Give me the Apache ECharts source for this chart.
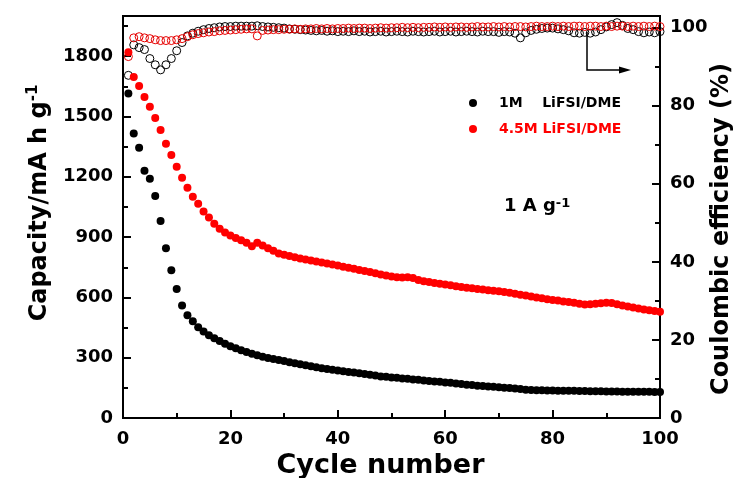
<!DOCTYPE html>
<html>
<head>
<meta charset="utf-8">
<script src="https://cdn.jsdelivr.net/npm/echarts@6/dist/echarts.min.js"></script>
<style>
  html, body { margin: 0; padding: 0; background: #fff; }
  #chart { width: 742px; height: 478px; }
</style>
</head>
<body>
<div id="chart"></div>
<script>
// cycle numbers
const cycles = [1,2,3,4,5,6,7,8,9,10,11,12,13,14,15,16,17,18,19,20,
  21,22,23,24,25,26,27,28,29,30,31,32,33,34,35,36,37,38,39,40,
  41,42,43,44,45,46,47,48,49,50,51,52,53,54,55,56,57,58,59,60,
  61,62,63,64,65,66,67,68,69,70,71,72,73,74,75,76,77,78,79,80,
  81,82,83,84,85,86,87,88,89,90,91,92,93,94,95,96,97,98,99,100];

// capacity, mA h g-1
const cap1M = [1615,1415,1345,1230,1190,1105,980,845,735,642,560,511,481,451,430,412,397,383,370,357,
  347,337,328,320,312,305,299,293,288,283,277,272,267,262,257,253,248,244,240,236,
  233,229,226,223,219,215,211,207,205,202,200,197,195,192,190,187,184,182,180,177,
  175,172,169,166,164,161,159,157,155,153,151,149,147,144,140,139,138,138,137,137,
  136,136,135,135,134,134,133,133,133,132,132,132,131,131,131,130,130,130,129,129];

const cap45M = [1820,1696,1652,1597,1548,1493,1433,1364,1309,1250,1195,1146,1101,1066,1027,997,967,942,923,908,
  896,884,872,855,872,858,845,832,818,812,806,800,794,789,784,779,774,769,764,759,
  753,748,742,736,731,726,720,714,709,704,700,699,700,696,686,680,676,672,668,664,
  660,656,652,648,645,642,639,636,633,630,627,623,618,613,609,604,600,596,591,587,
  584,580,577,573,569,565,566,569,571,573,572,566,560,555,550,545,540,536,532,529];

// coulombic efficiency, %
const ce1M = [87.8,95.6,94.9,94.4,92.1,90.5,89.2,90.5,92.1,94.1,96.2,97.9,98.6,99.1,99.5,99.8,100.0,100.2,100.3,100.3,
  100.4,100.4,100.4,100.4,100.5,100.3,100.2,100.1,100.0,99.9,99.7,99.6,99.5,99.4,99.3,99.2,99.3,99.1,99.2,99.0,
  99.1,99.0,99.2,99.0,99.1,98.9,99.0,99.1,98.9,99.0,99.1,99.0,98.9,99.1,99.0,98.9,99.0,99.1,98.9,99.0,
  99.1,98.9,99.0,99.1,99.0,98.9,99.1,99.0,99.0,98.8,99.0,98.9,98.6,97.4,98.7,99.3,99.6,99.8,99.9,99.9,
  99.7,99.5,99.2,98.7,98.6,98.8,98.6,98.9,99.5,100.2,100.8,101.3,100.6,99.8,99.5,99.0,98.7,98.9,98.7,99.0];

const ce45M = [92.6,97.4,97.7,97.4,97.2,96.9,96.7,96.7,96.7,96.9,97.2,97.7,98.2,98.5,98.7,98.9,99.0,99.2,99.3,99.4,
  99.5,99.6,99.7,99.7,97.9,99.3,99.4,99.5,99.5,99.6,99.6,99.7,99.6,99.7,99.7,99.8,99.7,99.8,99.7,99.8,
  99.8,99.9,99.8,99.9,99.9,99.8,99.9,100.0,99.9,100.0,100.0,100.1,100.0,100.1,100.0,100.1,100.1,100.2,100.1,100.2,
  100.1,100.2,100.2,100.1,100.2,100.3,100.2,100.2,100.3,100.2,100.3,100.2,100.3,100.3,100.2,100.3,100.4,100.3,100.3,100.4,
  100.3,100.4,100.3,100.4,100.4,100.3,100.4,100.4,100.3,100.4,100.3,100.4,100.4,100.3,100.4,100.3,100.4,100.3,100.4,100.3];

const name1M = '1M    LiFSI/DME';
const name45M = '4.5M LiFSI/DME';

function pairs(xs, ys) {
  return xs.map(function (x, i) { return [x, ys[i]]; });
}
function plain(v) { return String(v); }

const font = 'DejaVu Sans';
const axisLineStyle = { color: '#000', width: 2 };
const labelStyle = { color: '#000', fontFamily: font, fontWeight: 'bold', fontSize: 18, formatter: plain };
const nameStyle = { color: '#000', fontFamily: font, fontWeight: 'bold', fontSize: 25 };

const chart = echarts.init(document.getElementById('chart'));
chart.setOption({
  animation: false,
  backgroundColor: '#fff',
  grid: {
    left: 123, right: 82, top: 16, bottom: 60,
    outerBoundsMode: 'none',
    show: true, borderColor: '#000', borderWidth: 2
  },
  legend: {
    orient: 'vertical',
    left: 464, top: 91,
    itemWidth: 42, itemHeight: 8, itemGap: 12,
    icon: 'circle',
    selectedMode: false,
    textStyle: { fontFamily: font, fontWeight: 'bold', fontSize: 14 },
    data: [
      { name: name1M, textStyle: { color: '#000' } },
      { name: name45M, textStyle: { color: '#ff0000' } }
    ]
  },
  xAxis: {
    type: 'value', min: 0, max: 100, interval: 20,
    name: 'Cycle number', nameLocation: 'middle', nameGap: 32,
    nameTextStyle: Object.assign({ padding: [0, 22, 0, 0] }, nameStyle, { fontSize: 27 }),
    axisLine: { lineStyle: axisLineStyle },
    axisTick: { inside: true, length: 8, lineStyle: axisLineStyle },
    minorTick: { show: true, splitNumber: 2, length: 5, lineStyle: axisLineStyle },
    axisLabel: Object.assign({ margin: 12 }, labelStyle),
    splitLine: { show: false }
  },
  yAxis: [
    {
      type: 'value', position: 'left', min: 0, max: 2000, interval: 300,
      name: '{b|Capacity/mA h g}{sup|-1}', nameLocation: 'middle', nameGap: 71, nameRotate: 90,
      nameMoveOverlap: false,
      nameTextStyle: {
        padding: [0, 0, 0, 28],
        rich: {
          b: Object.assign({ verticalAlign: 'bottom', lineHeight: 26 }, nameStyle, { fontSize: 24 }),
          sup: { color: '#000', fontFamily: font, fontWeight: 'bold', fontSize: 15, verticalAlign: 'top', lineHeight: 15, padding: [0, 0, 16, 0] }
        }
      },
      axisLine: { show: true, lineStyle: axisLineStyle },
      axisTick: { show: true, inside: true, length: 8, lineStyle: axisLineStyle },
      axisLabel: Object.assign({ margin: 10, showMaxLabel: false }, labelStyle),
      splitLine: { show: false }
    },
    {
      type: 'value', position: 'left', min: 0, max: 2000, interval: 150,
      axisLine: { show: false },
      axisTick: { show: true, inside: true, length: 5, lineStyle: axisLineStyle },
      axisLabel: { show: false },
      splitLine: { show: false }
    },
    {
      type: 'value', position: 'right', min: 0, max: 103, interval: 20,
      name: 'Coulombic efficiency (%)', nameLocation: 'middle', nameGap: 50, nameRotate: 90,
      nameMoveOverlap: false,
      nameTextStyle: Object.assign({ padding: [0, 24, 0, 0] }, nameStyle, { fontSize: 24 }),
      axisLine: { show: true, lineStyle: axisLineStyle },
      axisTick: { show: true, inside: true, length: 8, lineStyle: axisLineStyle },
      axisLabel: Object.assign({ margin: 10, showMaxLabel: false }, labelStyle),
      splitLine: { show: false }
    },
    {
      type: 'value', position: 'right', min: 0, max: 103, interval: 10,
      axisLine: { show: false },
      axisTick: { show: true, inside: true, length: 5, lineStyle: axisLineStyle },
      axisLabel: { show: false },
      splitLine: { show: false }
    }
  ],
  graphic: [
    {
      type: 'text', left: 504, top: 197, silent: true,
      style: {
        text: '{b|1 A g}{sup|-1}',
        rich: {
          b: { fill: '#000', fontFamily: font, fontWeight: 'bold', fontSize: 18, lineHeight: 18, verticalAlign: 'bottom' },
          sup: { fill: '#000', fontFamily: font, fontWeight: 'bold', fontSize: 13, lineHeight: 13, verticalAlign: 'top', padding: [0, 0, 14, 0] }
        }
      }
    },
    {
      type: 'polyline', silent: true,
      shape: { points: [[587, 32], [587, 70], [622, 70]] },
      style: { stroke: '#000', lineWidth: 1.5, fill: null }
    },
    {
      type: 'polygon', silent: true,
      shape: { points: [[619, 66.5], [631, 70], [619, 73.5]] },
      style: { fill: '#000' }
    }
  ],
  series: [
    {
      name: 'CE 1M', type: 'scatter', yAxisIndex: 2, symbol: 'circle', symbolSize: 8,
      itemStyle: { color: 'rgba(0,0,0,0)', borderColor: '#000', borderWidth: 1, opacity: 1 },
      data: pairs(cycles, ce1M)
    },
    {
      name: 'CE 4.5M', type: 'scatter', yAxisIndex: 2, symbol: 'circle', symbolSize: 8,
      itemStyle: { color: 'rgba(0,0,0,0)', borderColor: '#e60000', borderWidth: 1, opacity: 1 },
      data: pairs(cycles, ce45M)
    },
    {
      name: name1M, type: 'scatter', yAxisIndex: 0, symbol: 'circle', symbolSize: 8,
      itemStyle: { color: '#000', opacity: 1 },
      data: pairs(cycles, cap1M)
    },
    {
      name: name45M, type: 'scatter', yAxisIndex: 0, symbol: 'circle', symbolSize: 8,
      itemStyle: { color: '#ff0000', opacity: 1 },
      data: pairs(cycles, cap45M)
    }
  ]
});
</script>
</body>
</html>
